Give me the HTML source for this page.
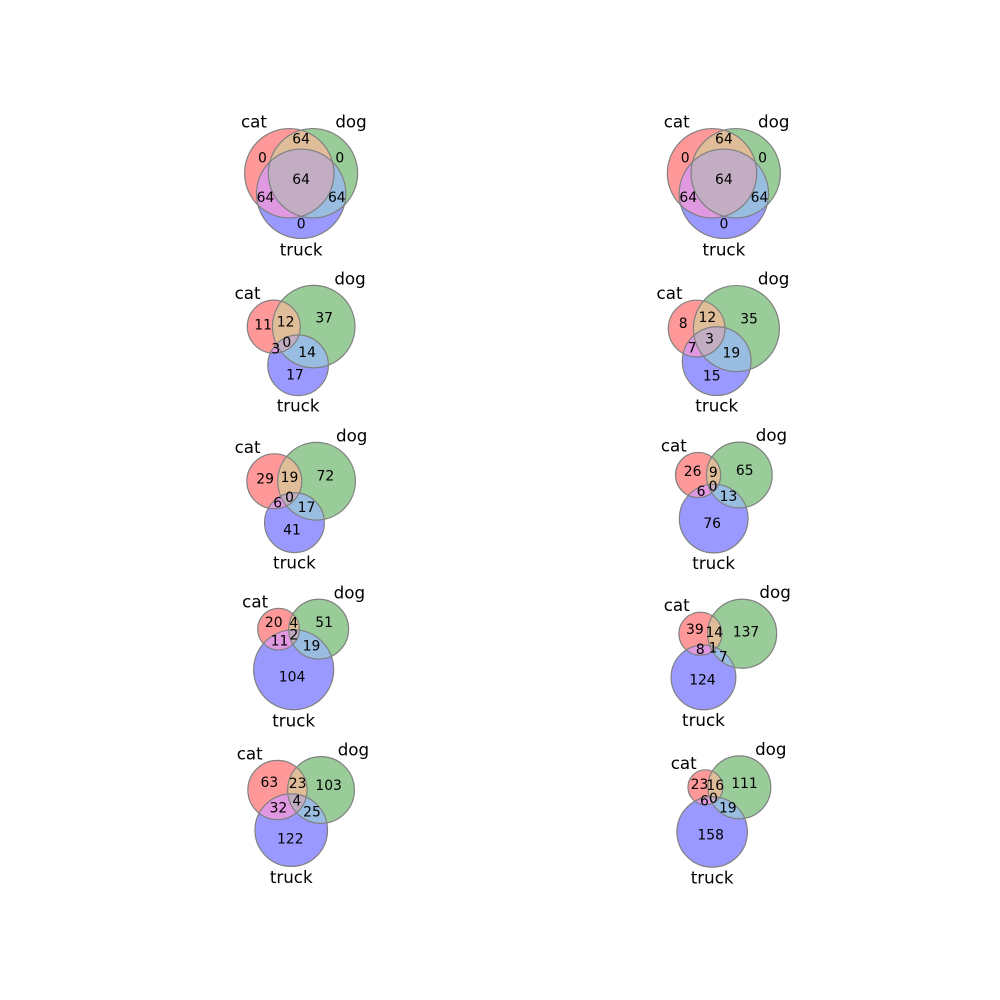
<!DOCTYPE html>
<html><head><meta charset="utf-8"><style>
html,body{margin:0;padding:0;background:#fff;}
svg{display:block;font-family:"DejaVu Sans","Liberation Sans",sans-serif;}
</style></head><body>
<svg id="fig" width="1000" height="1000" viewBox="0 0 1000 1000"></svg>
<script>
// Region order: A-only, B-only, AB, C-only, AC, BC, ABC  (A=cat, B=dog, C=truck)
const setNames = ["cat", "dog", "truck"];
const panel1 = [0, 0, 64, 0, 64, 64, 64];
const panel2 = [0, 0, 64, 0, 64, 64, 64];
const panel3 = [11, 37, 12, 17, 3, 14, 0];
const panel4 = [8, 35, 12, 15, 7, 19, 3];
const panel5 = [29, 72, 19, 41, 6, 17, 0];
const panel6 = [26, 65, 9, 76, 6, 13, 0];
const panel7 = [20, 51, 4, 104, 11, 19, 2];
const panel8 = [39, 137, 14, 124, 8, 7, 1];
const panel9 = [63, 103, 23, 122, 32, 25, 4];
const panel10 = [23, 111, 16, 158, 6, 19, 0];
const panels = [panel1, panel2, panel3, panel4, panel5, panel6, panel7, panel8, panel9, panel10];

const NS = "http://www.w3.org/2000/svg";
const svg = document.getElementById("fig");
function mk(tag, attrs, parent) {
  const e = document.createElementNS(NS, tag);
  for (const k in attrs) e.setAttribute(k, attrs[k]);
  (parent || svg).appendChild(e);
  return e;
}
const regionColors = ["#ff9999", "#99cc99", "#e0bd99", "#9999ff", "#e099e0", "#99bde0", "#c2adc2"];
const regionMasks = [[1,0,0],[0,1,0],[1,1,0],[0,0,1],[1,0,1],[0,1,1],[1,1,1]];
const regionNames = ["cat-only", "dog-only", "cat-dog", "truck-only", "cat-truck", "dog-truck", "all-three"];

function interArea(r1, r2, d) {
  if (d >= r1 + r2) return 0;
  if (d <= Math.abs(r1 - r2)) return Math.PI * Math.min(r1, r2) ** 2;
  const a = r1*r1*Math.acos((d*d + r1*r1 - r2*r2) / (2*d*r1));
  const b = r2*r2*Math.acos((d*d + r2*r2 - r1*r1) / (2*d*r2));
  const c = 0.5*Math.sqrt((-d+r1+r2)*(d+r1-r2)*(d-r1+r2)*(d+r1+r2));
  return a + b - c;
}
function findDist(r1, r2, A) {
  if (A <= 1e-9) return r1 + r2;
  if (A >= Math.PI * Math.min(r1, r2) ** 2) return Math.abs(r1 - r2);
  let lo = Math.abs(r1 - r2), hi = r1 + r2;
  for (let i = 0; i < 60; i++) {
    const m = (lo + hi) / 2;
    if (interArea(r1, r2, m) > A) lo = m; else hi = m;
  }
  return (lo + hi) / 2;
}
function layout(s) {
  const tot = s.reduce((a, b) => a + b, 0);
  const v = s.map(x => x / tot);
  const Aa = v[0]+v[2]+v[4]+v[6], Ab = v[1]+v[2]+v[5]+v[6], Ac = v[3]+v[4]+v[5]+v[6];
  const r = [Math.sqrt(Aa/Math.PI), Math.sqrt(Ab/Math.PI), Math.sqrt(Ac/Math.PI)];
  let dab = findDist(r[0], r[1], v[2]+v[6]);
  let dbc = findDist(r[1], r[2], v[5]+v[6]);
  let dac = findDist(r[0], r[2], v[4]+v[6]);
  if (dab > dbc + dac) dab = dbc + dac;
  if (dac > dab + dbc) dac = dab + dbc;
  if (dbc > dab + dac) dbc = dab + dac;
  const cx = (dac*dac - dbc*dbc + dab*dab) / (2*dab);
  const cy = -Math.sqrt(Math.max(0, dac*dac - cx*cx));
  return { r, c: [[0, 0], [dab, 0], [cx, cy]] };
}
function inside(p, c, r) { return (p[0]-c[0])**2 + (p[1]-c[1])**2 < r*r; }

const L = 125, R = 900;
const colW = (R - L) / 2.2, rowH = 132.8;
const rowPitch = 157, row0Center = 183.5, fitScale = 0.965;

panels.forEach((s, idx) => {
  const row = Math.floor(idx / 2), col = idx % 2;
  const bx = L + col * colW * 1.2;
  const ccy = row0Center + row * rowPitch;
  const g = mk("g", {});
  
  
  const { r, c } = layout(s);
  let minx = Infinity, maxx = -Infinity, miny = Infinity, maxy = -Infinity;
  for (let i = 0; i < 3; i++) {
    minx = Math.min(minx, c[i][0]-r[i]); maxx = Math.max(maxx, c[i][0]+r[i]);
    miny = Math.min(miny, c[i][1]-r[i]); maxy = Math.max(maxy, c[i][1]+r[i]);
  }
  minx -= 0.1; maxx += 0.1; miny -= 0.1; maxy += 0.1;
  const sc = fitScale * Math.min(colW / (maxx - minx), rowH / (maxy - miny));
  const mx = (minx + maxx) / 2, my = (miny + maxy) / 2;
  const X = x => bx + colW/2 + (x - mx) * sc;
  const Y = y => ccy - (y - my) * sc;
  const pc = c.map(p => [X(p[0]), Y(p[1])]);
  const pr = r.map(x => x * sc);
  const pid = "p" + idx;
  const defs = mk("defs", {}, g);
  for (let i = 0; i < 3; i++) {
    const cp = mk("clipPath", { id: pid + "c" + i }, defs);
    mk("circle", { cx: pc[i][0], cy: pc[i][1], r: pr[i] }, cp);
  }
  regionMasks.forEach((m, k) => {
    const ins = [0,1,2].filter(i => m[i]), outs = [0,1,2].filter(i => !m[i]);
    const mask = mk("mask", { id: pid + "m" + k }, defs);
    mk("rect", { x: 0, y: 0, width: 1000, height: 1000, fill: "#fff" }, mask);
    outs.forEach(i => mk("circle", { cx: pc[i][0], cy: pc[i][1], r: pr[i], fill: "#000" }, mask));
    let parent = g;
    ins.slice(1).forEach(i => { parent = mk("g", { "clip-path": "url(#" + pid + "c" + i + ")" }, parent); });
    const f = ins[0];
    const reg = mk("circle", { cx: pc[f][0], cy: pc[f][1], r: pr[f], fill: regionColors[k], mask: "url(#" + pid + "m" + k + ")" }, parent);
    
    
  });
  for (let i = 0; i < 3; i++) {
    const o = mk("circle", { cx: pc[i][0], cy: pc[i][1], r: pr[i], fill: "none", stroke: "#808080", "stroke-width": 1.2 }, g);
    
    
  }
  const N = 70;
  regionMasks.forEach((m, k) => {
    const pts = [];
    for (let a = 0; a <= N; a++) for (let b = 0; b <= N; b++) {
      const p = [minx + (maxx-minx)*a/N, miny + (maxy-miny)*b/N];
      let ok = true;
      for (let i = 0; i < 3; i++) if (inside(p, c[i], r[i]) !== !!m[i]) { ok = false; break; }
      if (ok) pts.push(p);
    }
    let lp;
    const dB = p => Math.min(...[0,1,2].map(i => Math.abs(Math.hypot(p[0]-c[i][0], p[1]-c[i][1]) - r[i])));
    if (pts.length === 0) {
      lp = [(c[0][0]+c[1][0]+c[2][0])/3, (c[0][1]+c[1][1]+c[2][1])/3];
    } else {
      let sx = 0, sy = 0; pts.forEach(p => { sx += p[0]; sy += p[1]; });
      const cen = [sx/pts.length, sy/pts.length];
      let cenIn = true;
      for (let i = 0; i < 3; i++) if (inside(cen, c[i], r[i]) !== !!m[i]) cenIn = false;
      let best = pts[0], bd = -1;
      pts.forEach(p => { const d = dB(p); if (d > bd) { bd = d; best = p; } });
      lp = (cenIn && dB(cen) > bd * 0.6) ? cen : best;
    }
    const t = mk("text", { x: X(lp[0]), y: Y(lp[1]), "text-anchor": "middle", "dominant-baseline": "central", "font-size": 13.9, fill: "#000" }, g);
    t.textContent = s[k];
    
    
  });
  const sl = [
    { x: pc[0][0] - pr[0]/2, y: pc[0][1] - pr[0], a: "end", b: "auto" },
    { x: pc[1][0] + pr[1]/2, y: pc[1][1] - pr[1], a: "start", b: "auto" },
    { x: pc[2][0], y: pc[2][1] + pr[2]*1.1, a: "middle", b: "hanging" }
  ];
  sl.forEach((q, i) => {
    const t = mk("text", { x: q.x, y: i < 2 ? q.y - 1 : q.y, "text-anchor": q.a, "dominant-baseline": q.b, "font-size": 16.7, fill: "#000" }, g);
    t.textContent = setNames[i];
    
    
  });
});
</script>
</body></html>
